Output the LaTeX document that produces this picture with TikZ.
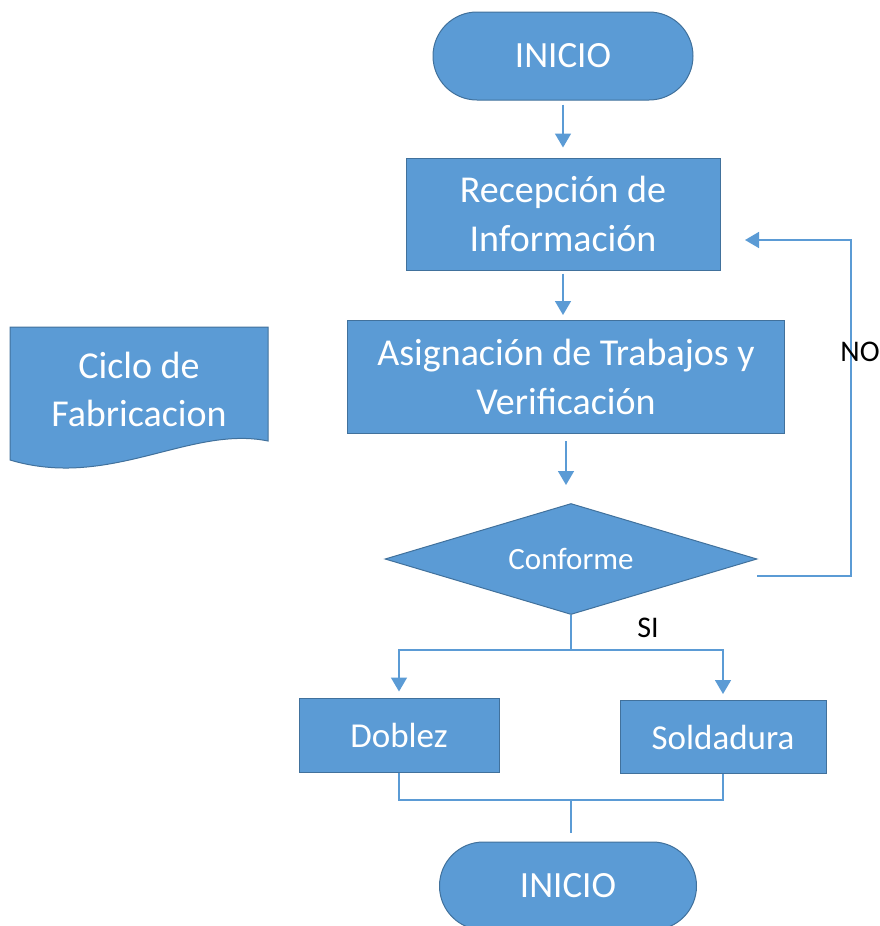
\documentclass[tikz,border=0pt]{standalone}
\usepackage{fontspec}
\setmainfont{Carlito}
\usetikzlibrary{arrows.meta, shapes.geometric}
\definecolor{ofblue}{HTML}{5B9BD5}
\definecolor{ofborder}{HTML}{41719C}

\begin{document}
\begin{tikzpicture}[x=1pt, y=-1pt,
            blk/.style={rectangle, draw=ofborder, fill=ofblue, line width=1pt, text=white, align=center, font=\fontsize{38}{49}\selectfont},
            term/.style={blk, rounded corners=44pt, minimum width=260pt, minimum height=88pt, font=\fontsize{37}{44}\selectfont},
            line/.style={draw=ofblue, line width=1.6pt},
            arr/.style={line, -{Triangle[width=16pt, length=14pt]}},
            lbl/.style={font=\fontsize{30}{34}\selectfont}]
            \useasboundingbox (0,0) rectangle (880,926);
            \node[term] (ini) at (563,56) {INICIO};
            \node[blk, minimum width=314pt, minimum height=112pt] (rec) at (563,214) {Recepción de\\Información};
            \node[blk, minimum width=437pt, minimum height=113pt] (asig) at (566,377) {Asignación de Trabajos y\\Verificación};
            \node[blk, diamond, aspect=3.35, inner sep=0pt, minimum width=372pt, minimum height=111pt, font=\fontsize{31}{36}\selectfont] (conf) at (571,559) {Conforme};
            \node[blk, minimum width=200pt, minimum height=74pt, font=\fontsize{35}{42}\selectfont] (dob) at (399,735) {Doblez};
            \node[blk, minimum width=206pt, minimum height=73pt, font=\fontsize{35}{42}\selectfont] (sol) at (723,737) {Soldadura};
            \node[term, minimum width=257pt] (fin) at (568,886) {INICIO};
            \draw[draw=ofborder, fill=ofblue, line width=1pt] (10,327) -- (268,327) -- (268,441)
                .. controls (190,425) and (110,490) .. (10,460) -- cycle;
            \node[text=white, align=center, font=\fontsize{38}{48}\selectfont] (ciclo) at (139,389) {Ciclo de\\Fabricacion};
            \coordinate (noA) at (757,576);
            \coordinate (noB) at (745,240);
            \coordinate (sp) at (571,650);
            \coordinate (jn) at (571,800);
            \draw[arr, shorten <=4pt, shorten >=10pt] (ini.south) -- (ini.south |- rec.north);
            \draw[arr, shorten <=3pt, shorten >=5pt] (rec.south) -- (rec.south |- asig.north);
            \draw[arr, shorten <=7pt, shorten >=18pt] (asig.south) -- (asig.south |- conf.north);
            \draw[arr] (noA) -- ++(94,0) |- (noB);
            \draw[line] (conf.south) -- (sp);
            \draw[arr, shorten >=6pt] (sp) -| (dob.north);
            \draw[arr, shorten >=6pt] (sp) -| (sol.north);
            \draw[line] (dob.south) |- (jn) -| (sol.south);
            \draw[line, shorten >=9pt] (jn) -- (jn |- fin.north);
            \node[lbl] (no) at (860,352) {NO};
            \node[lbl] (si) at (648,628) {SI};
        \end{tikzpicture}
\end{document}
